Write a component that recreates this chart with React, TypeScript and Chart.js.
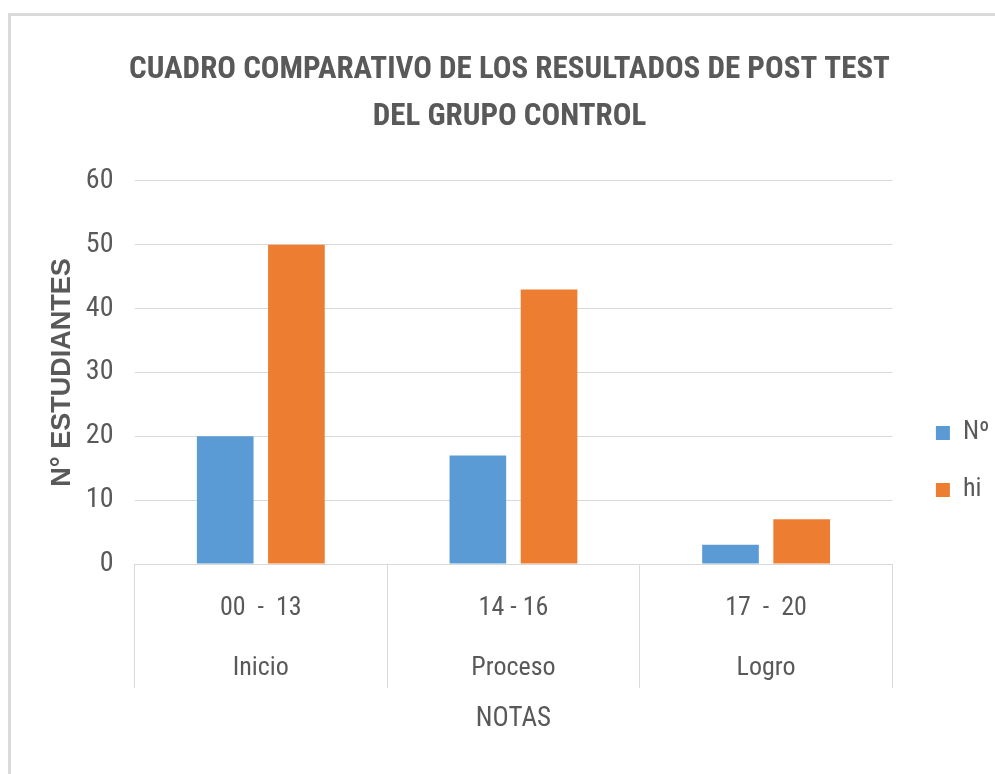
import React, { useEffect, useRef } from "react";
import { Chart, registerables } from "chart.js";

Chart.register(...registerables);

const TITLE_LINES = ["CUADRO COMPARATIVO DE LOS RESULTADOS DE POST TEST", "DEL GRUPO CONTROL"];
const RANGE_LABELS = ["00  -  13", "14 - 16", "17  -  20"];
const LEVEL_LABELS = ["Inicio", "Proceso", "Logro"];
const SERIES_NAMES = ["Nº", "hi"];
const N_VALUES = [20, 17, 3];
const HI_VALUES = [50, 43, 7];
const Y_TITLE = "N° ESTUDIANTES";
const X_TITLE = "NOTAS";
const Y_MIN = 0;
const Y_MAX = 60;
const Y_STEP = 10;

const NARROW = "'Roboto Condensed', 'Liberation Sans Narrow', 'DejaVu Sans Condensed', sans-serif";
const TEXT = "#595959";
const GRID = "#d9d9d9";

export default function App() {
  const ref = useRef<HTMLCanvasElement | null>(null);

  useEffect(() => {
    if (!ref.current) return;
    const chart = new Chart(ref.current, {
      type: "bar",
      data: {
        labels: RANGE_LABELS.map((r, i) => [r, LEVEL_LABELS[i]]),
        datasets: [
          {
            label: SERIES_NAMES[0],
            data: N_VALUES,
            backgroundColor: "#5B9BD5",
            categoryPercentage: 0.5635,
            barPercentage: 0.796,
          },
          {
            label: SERIES_NAMES[1],
            data: HI_VALUES,
            backgroundColor: "#ED7D31",
            categoryPercentage: 0.5635,
            barPercentage: 0.796,
          },
        ],
      },
      options: {
        responsive: false,
        animation: false,
        devicePixelRatio: 1,
        layout: { padding: { left: 19.5, right: -4.5, top: 0, bottom: 0 } },
        plugins: {
          title: {
            display: true,
            text: TITLE_LINES,
            color: TEXT,
            font: { family: NARROW, size: 31, weight: "bold", lineHeight: 1.516 },
            padding: { top: 46.5, bottom: 40.5 },
          },
          legend: {
            position: "right",
            fullSize: false,
            align: "start",
            title: {
              display: true,
              text: " ",
              font: { size: 8, lineHeight: 1 },
              padding: { top: 200, bottom: 0 },
            },
            labels: {
              boxWidth: 14,
              boxHeight: 14,
              padding: 31,
              color: TEXT,
              font: { family: NARROW, size: 26 },
            },
          },
          tooltip: { enabled: false },
        },
        scales: {
          x: {
            grid: {
              offset: true,
              drawOnChartArea: false,
              drawTicks: true,
              tickLength: 124,
              color: GRID,
              lineWidth: 1,
            },
            border: { display: true, color: GRID },
            ticks: {
              color: TEXT,
              font: { family: NARROW, size: 26, lineHeight: 2.3077 },
              padding: -110,
              maxRotation: 0,
              autoSkip: false,
            },
            title: {
              display: true,
              text: X_TITLE,
              color: TEXT,
              font: { family: NARROW, size: 27, lineHeight: 1.2 },
              padding: { top: 0, bottom: 39 },
            },
            afterFit: (s: any) => {
              s.height = 210;
            },
          },
          y: {
            min: Y_MIN,
            max: Y_MAX,
            ticks: {
              stepSize: Y_STEP,
              color: TEXT,
              font: { family: NARROW, size: 28 },
              padding: 21,
            },
            grid: { color: GRID, drawTicks: false, lineWidth: 1 },
            border: { display: false },
            title: {
              display: true,
              text: Y_TITLE,
              color: TEXT,
              font: { family: "'Liberation Sans', Arial, sans-serif", size: 27, weight: "bold", lineHeight: 1.2 },
              padding: { top: 27.3, bottom: 0 },
            },
            afterFit: (s: any) => {
              s.width = 115;
            },
          },
          y2: {
            position: "right",
            display: true,
            grid: { display: false },
            ticks: { display: false },
            border: { display: false },
            afterFit: (s: any) => {
              s.width = 12.5;
            },
          },
        },
      },
    } as any);
    return () => chart.destroy();
  }, []);

  return (
    <div style={{ position: "fixed", left: 0, top: 0, width: 995, height: 774, background: "#fff", overflow: "hidden" }}>
      <div
        style={{
          position: "absolute",
          left: 8,
          top: 13,
          width: 995,
          height: 774,
          borderTop: "3px solid #dadada",
          borderLeft: "3px solid #dadada",
        }}
      />
      <canvas ref={ref} width={995} height={774} style={{ position: "absolute", left: 0, top: 0, width: 995, height: 774 }} />
    </div>
  );
}
